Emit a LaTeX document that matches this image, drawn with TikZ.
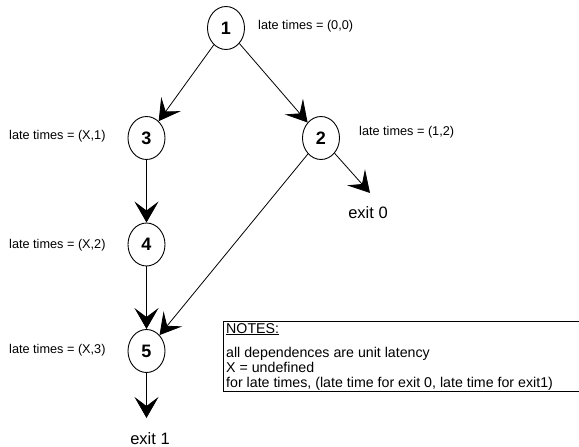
\documentclass[tikz,border=0pt]{standalone}
\usepackage{fontspec}
\setmainfont{Liberation Sans}
\usetikzlibrary{shapes.geometric,arrows.meta}
\begin{document}
\begin{tikzpicture}[x=1pt,y=-1pt,
  state/.style={ellipse,draw,line width=0.9pt,inner sep=0pt,
    minimum width=37pt,minimum height=43pt,
    font=\fontsize{18}{20}\selectfont\bfseries},
  dep/.style={draw,line width=0.8pt,
    -{Stealth[length=21pt,width=24pt,inset=9pt]}},
  late/.style={anchor=base west,inner sep=0pt,font=\fontsize{12.7}{15}\selectfont},
  exitlbl/.style={anchor=base,inner sep=0pt,font=\fontsize{16.5}{18}\selectfont},
  note/.style={anchor=base west,inner sep=0pt,font=\fontsize{14.2}{16}\selectfont}]
\useasboundingbox (0,0) rectangle (579,447);

% instructions
\node[state] (n1) at (226,28) {1};
\node[state] (n2) at (321,138) {2};
\node[state] (n3) at (146.5,138) {3};
\node[state] (n4) at (146.5,244.5) {4};
\node[state] (n5) at (146.5,351) {5};

% exits
\coordinate (x0) at (370,193);
\coordinate (x1) at (146.5,418);
\node[exitlbl] (e0) at (368,218) {exit 0};
\node[exitlbl] (e1) at (150,444) {exit 1};

% late-time annotations
\node[late] (l1) at (258,29) {late times = (0,0)};
\node[late] (l2) at (359,135) {late times = (1,2)};
\node[late] (l3) at (9,139) {late times = (X,1)};
\node[late] (l4) at (9,248) {late times = (X,2)};
\node[late] (l5) at (9,353) {late times = (X,3)};

% dependences
\draw[dep] (n1) -- (n3);
\draw[dep] (n1) -- (n2);
\draw[dep] (n2) -- (x0);
\draw[dep] (n2) -- (n5);
\draw[dep] (n3) -- (n4);
\draw[dep] (n4) -- (n5);
\draw[dep] (n5) -- (x1);

% notes box
\draw[line width=0.8pt] (579,321) -| (223,391) -- (579,391);
\node[note] (t0) at (226,333) {\underline{NOTES:}};
\node[note] (t1) at (226,357.5) {all dependences are unit latency};
\node[note] (t2) at (226,372.5) {X = undefined};
\node[note] (t3) at (226,387) {for late times, (late time for exit 0, late time for exit1)};
\end{tikzpicture}
\end{document}
